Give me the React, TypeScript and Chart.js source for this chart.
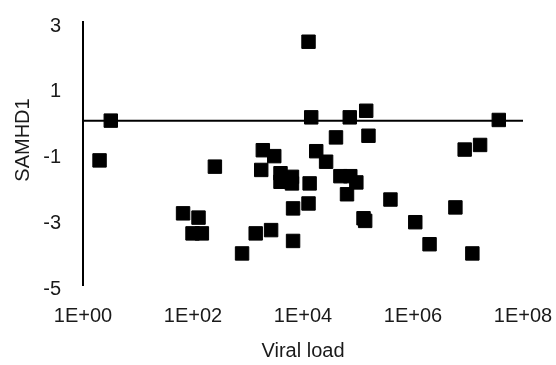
import React, { useEffect, useRef } from "react";
import { Chart, registerables } from "chart.js";

Chart.register(...registerables);

// Viral load (x) and SAMHD1 (y) values
const viralLoad = [
  3.2, 2, 250, 66, 126, 98, 145,
  1860, 3000, 1740, 3900, 3900, 6300, 6300, 13200, 17400, 26300, 12600, 6600, 2630, 1380, 6600, 780, 5000,
  12600, 14100, 70800, 141000, 39800, 155000, 47900, 72400, 93300, 63100, 126000, 135000,
  389000, 1100000, 2000000, 5900000, 8700000, 16600000, 12000000, 36300000,
];
const samhd1 = [
  0.0, -1.21, -1.4, -2.82, -2.95, -3.43, -3.43,
  -0.9, -1.08, -1.5, -1.6, -1.86, -1.71, -1.91, -1.91, -0.93, -1.25, -2.52, -2.67, -3.33, -3.43, -3.66, -4.04, -1.75,
  2.4, 0.1, 0.1, 0.3, -0.51, -0.46, -1.69, -1.69, -1.88, -2.24, -2.97, -3.05,
  -2.4, -3.09, -3.76, -2.64, -0.88, -0.74, -4.04, 0.02,
];

// Reference line at SAMHD1 = 0 across the axis range
const refLineX = [1, 1e8];
const refLineY = [0, 0];

const xTickValues = [1, 1e2, 1e4, 1e6, 1e8];
const yMin = -5;
const yMax = 3;
const yStep = 2;

const xTitle = "Viral load";
const yTitle = "SAMHD1";

const FONT = "'Liberation Sans', Arial, sans-serif";
const TEXT = "#1a1a1a";

const yTitlePlugin = {
  id: "yTitle",
  afterDraw(chart: any) {
    const ctx = chart.ctx;
    ctx.save();
    ctx.translate(23, 140);
    ctx.rotate(-Math.PI / 2);
    ctx.font = `20px ${FONT}`;
    ctx.fillStyle = TEXT;
    ctx.textAlign = "center";
    ctx.textBaseline = "middle";
    ctx.fillText(yTitle, 0, 0);
    ctx.restore();
  },
};

export default function App() {
  const ref = useRef<HTMLCanvasElement | null>(null);

  useEffect(() => {
    if (!ref.current) return;
    const points = viralLoad.map((v, i) => ({ x: v, y: samhd1[i] }));
    const line = refLineX.map((v, i) => ({ x: v, y: refLineY[i] }));
    const chart = new Chart(ref.current, {
      type: "scatter",
      data: {
        datasets: [
          {
            type: "scatter",
            data: points,
            pointStyle: "rect",
            pointRadius: 9.5,
            pointHoverRadius: 9.5,
            backgroundColor: "#000",
            borderColor: "#000",
            borderWidth: 1,
            order: 0,
          } as any,
          {
            type: "line",
            data: line,
            borderColor: "#000",
            borderWidth: 2,
            pointRadius: 0,
            fill: false,
            order: 1,
          } as any,
        ],
      },
      plugins: [yTitlePlugin],
      options: {
        responsive: false,
        animation: false,
        events: [],
        layout: { padding: { left: 0, right: 33, top: 22, bottom: 0 } },
        plugins: {
          legend: { display: false },
          tooltip: { enabled: false },
          title: { display: false },
        },
        scales: {
          x: {
            type: "logarithmic",
            min: 1,
            max: 1e8,
            grid: { display: false, drawTicks: true, tickLength: 19 },
            border: { display: false },
            afterBuildTicks: (scale: any) => {
              scale.ticks = xTickValues.map((v) => ({ value: v }));
            },
            afterFit: (scale: any) => {
              scale.height = 80;
            },
            ticks: {
              autoSkip: false,
              maxRotation: 0,
              padding: 0,
              color: TEXT,
              font: { family: FONT, size: 20 },
              callback: (v: any) => {
                const e = Math.round(Math.log10(Number(v)));
                return `1E+${String(e).padStart(2, "0")}`;
              },
            },
            title: {
              display: true,
              text: xTitle,
              color: TEXT,
              font: { family: FONT, size: 20 },
              padding: { top: 0, bottom: 2 },
            },
          },
          y: {
            type: "linear",
            min: yMin,
            max: yMax,
            grid: { display: false, drawTicks: true, tickLength: 22 },
            border: { display: true, color: "#000", width: 2 },
            afterFit: (scale: any) => {
              scale.width = 83;
            },
            ticks: {
              stepSize: yStep,
              padding: 0,
              labelOffset: 4,
              color: TEXT,
              font: { family: FONT, size: 20 },
            },
          },
        },
      } as any,
    });
    return () => chart.destroy();
  }, []);

  return (
    <div style={{ position: "absolute", left: 0, top: 0, width: 556, height: 365, background: "#fff" }}>
      <canvas ref={ref} width={556} height={365} style={{ display: "block" }} />
    </div>
  );
}
